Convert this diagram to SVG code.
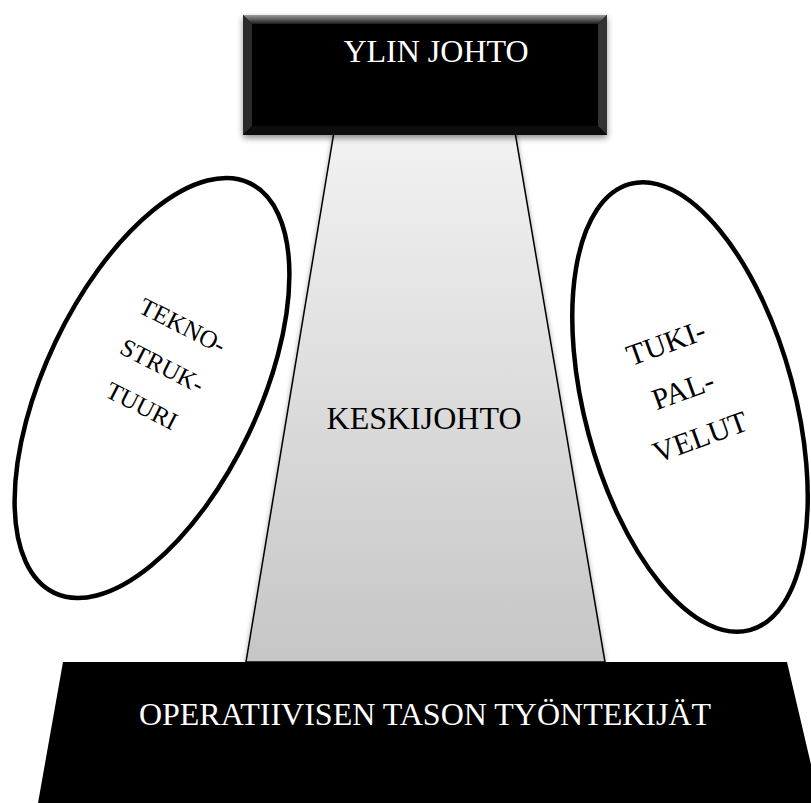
<svg xmlns="http://www.w3.org/2000/svg" width="811" height="803" viewBox="0 0 811 803">
  <defs>
    <linearGradient id="midFill" x1="0" y1="0" x2="0" y2="1">
      <stop offset="0" stop-color="#f2f2f2"/>
      <stop offset="1" stop-color="#c6c6c6"/>
    </linearGradient>
    <linearGradient id="bevelTop" x1="0" y1="0" x2="0" y2="1">
      <stop offset="0" stop-color="#9a9a9a"/>
      <stop offset="1" stop-color="#1c1c1c"/>
    </linearGradient>
    <filter id="shadow" x="-10%" y="-10%" width="120%" height="130%">
      <feDropShadow dx="0" dy="3" stdDeviation="3" flood-color="#000" flood-opacity="0.45"/>
    </filter>
    <filter id="softShadow" x="-10%" y="-5%" width="120%" height="110%">
      <feDropShadow dx="0" dy="1" stdDeviation="2.5" flood-color="#000" flood-opacity="0.35"/>
    </filter>
  </defs>
  <style>
    text { font-family: "Liberation Serif", "Times New Roman", serif; }
    .light { fill: #ffffff; font-size: 32px; text-anchor: middle; }
    .dark { fill: #000000; font-size: 32px; text-anchor: middle; }
    .oval { fill: #ffffff; stroke: #000000; stroke-width: 4.5; }
    .side { fill: #000000; text-anchor: middle; }
  </style>

  <rect width="811" height="803" fill="#ffffff"/>

  <!-- middle line management: tapered grey column -->
  <g id="keskijohto">
    <polygon points="334,132 515,132 605,662 246,662" fill="url(#midFill)" stroke="#000" stroke-width="1.5" filter="url(#softShadow)"/>
    <text class="dark" x="424" y="429">KESKIJOHTO</text>
  </g>

  <!-- strategic apex: bevelled black box -->
  <g id="ylin-johto">
    <g filter="url(#shadow)">
      <rect x="243" y="15" width="364" height="120" fill="#000"/>
    </g>
    <polygon points="243,15 607,15 598,24 252,24" fill="url(#bevelTop)"/>
    <polygon points="243,15 252,24 252,126 243,135" fill="#2a2a2a"/>
    <polygon points="607,15 598,24 598,126 607,135" fill="#333"/>
    <polygon points="243,135 252,126 598,126 607,135" fill="#0d0d0d"/>
    <text class="light" x="436" y="62">YLIN JOHTO</text>
  </g>

  <!-- operating core: black base -->
  <g id="operatiivinen-taso">
    <polygon points="63,662 787,662 820,803 38,803" fill="#000"/>
    <text class="light" x="425" y="725">OPERATIIVISEN TASON TYÖNTEKIJÄT</text>
  </g>

  <!-- technostructure -->
  <g id="teknostruktuuri">
    <ellipse class="oval" cx="0" cy="0" rx="107" ry="227" transform="translate(152,388) rotate(25.5)"/>
    <g transform="translate(162,366) rotate(27)">
      <text class="side" font-size="25" x="0" y="-37">TEKNO-</text>
      <text class="side" font-size="25" x="0" y="8">STRUK-</text>
      <text class="side" font-size="25" x="0" y="53">TUURI</text>
    </g>
  </g>

  <!-- support staff -->
  <g id="tukipalvelut">
    <ellipse class="oval" cx="0" cy="0" rx="105" ry="231" transform="translate(690,407) rotate(-15)"/>
    <g transform="translate(683,390) rotate(-20)">
      <text class="side" font-size="30" x="0" y="-40">TUKI-</text>
      <text class="side" font-size="30" x="0" y="10">PAL-</text>
      <text class="side" font-size="30" x="0" y="60">VELUT</text>
    </g>
  </g>
</svg>
